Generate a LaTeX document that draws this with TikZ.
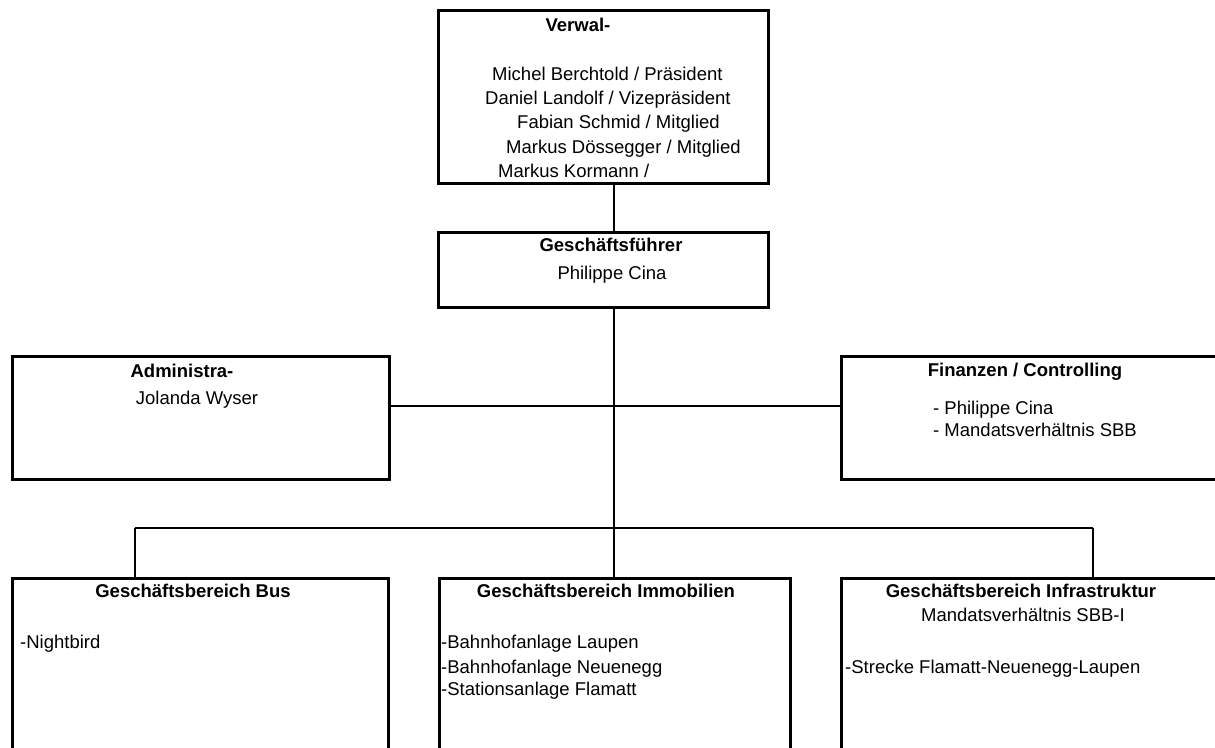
\documentclass[tikz,border=0pt]{standalone}
\usepackage{fontspec}
\setmainfont{Liberation Sans}
\begin{document}
\begin{tikzpicture}[x=1pt,y=-1pt,
  box/.style={draw, line width=3pt, rectangle, outer sep=0pt, inner sep=0pt, anchor=north west},
  conn/.style={line width=2.4pt},
  t/.style={inner sep=0pt, font=\fontsize{18.5}{24}\selectfont},
  tb/.style={t, font=\fontsize{18.5}{24}\selectfont\bfseries, anchor=base},
  tl/.style={t, anchor=base west},
  tc/.style={t, anchor=base}]
\useasboundingbox (0,0) rectangle (1215,747);
\clip (0,0) rectangle (1215,747);
% boxes
\node[box, minimum width=330pt, minimum height=173pt] (verw) at (438,10) {};
\node[box, minimum width=330pt, minimum height=75pt] (gf) at (438,232) {};
\node[box, minimum width=377pt, minimum height=123pt] (adm) at (12,356) {};
\node[box, minimum width=420pt, minimum height=123pt] (fin) at (841,356) {};
\node[box, minimum width=376pt, minimum height=220pt] (bus) at (12,578) {};
\node[box, minimum width=351pt, minimum height=220pt] (imm) at (439,578) {};
\node[box, minimum width=420pt, minimum height=220pt] (inf) at (841,578) {};
% coordinates
\coordinate (spine) at (614,0);
\coordinate (mid) at (614,406);
\coordinate (busdrop) at (135,528);
\coordinate (infdrop) at (1093,528);
% connectors
\draw[conn] (verw.south -| spine) -- (gf.north -| spine);
\draw[conn] (gf.south -| spine) -- (spine |- imm.north);
\draw[conn] (adm.east |- mid) -- (fin.west |- mid);
\draw[conn] (busdrop) -- (infdrop);
\draw[conn] (busdrop) -- (busdrop |- bus.north);
\draw[conn] (infdrop) -- (infdrop |- inf.north);
% texts
\node[tb] (verwT) at (578,31.5) {Verwal-};
\node[tl] (v1) at (492,80.5) {Michel Berchtold / Präsident};
\node[tl] (v2) at (485,104.5) {Daniel Landolf / Vizepräsident};
\node[tl] (v3) at (517,128.5) {Fabian Schmid / Mitglied};
\node[tl] (v4) at (506,153.5) {Markus Dössegger / Mitglied};
\node[tl] (v5) at (498,177.5) {Markus Kormann /};
\node[tb] (gfT) at (611,251.5) {Geschäftsführer};
\node[tc] (gf1) at (612,279.5) {Philippe Cina};
\node[tb] (admT) at (182,377.5) {Administra-};
\node[tc] (adm1) at (197,404.5) {Jolanda Wyser};
\node[tb] (finT) at (1025,376.5) {Finanzen / Controlling};
\node[tl] (fin1) at (933,414.5) {- Philippe Cina};
\node[tl] (fin2) at (933,436.5) {- Mandatsverhältnis SBB};
\node[tb] (busT) at (193,597.5) {Geschäftsbereich Bus};
\node[tl] (bus1) at (20,648.5) {-Nightbird};
\node[tb] (immT) at (606,597.5) {Geschäftsbereich Immobilien};
\node[tl] (imm1) at (441,648.5) {-Bahnhofanlage Laupen};
\node[tl] (imm2) at (441,673.5) {-Bahnhofanlage Neuenegg};
\node[tl] (imm3) at (441,695.5) {-Stationsanlage Flamatt};
\node[tb] (infT) at (1021,597.5) {Geschäftsbereich Infrastruktur};
\node[tc] (inf1) at (1023,621.5) {Mandatsverhältnis SBB-I};
\node[tl] (inf2) at (845,673.5) {-Strecke Flamatt-Neuenegg-Laupen};
\end{tikzpicture}
\end{document}
